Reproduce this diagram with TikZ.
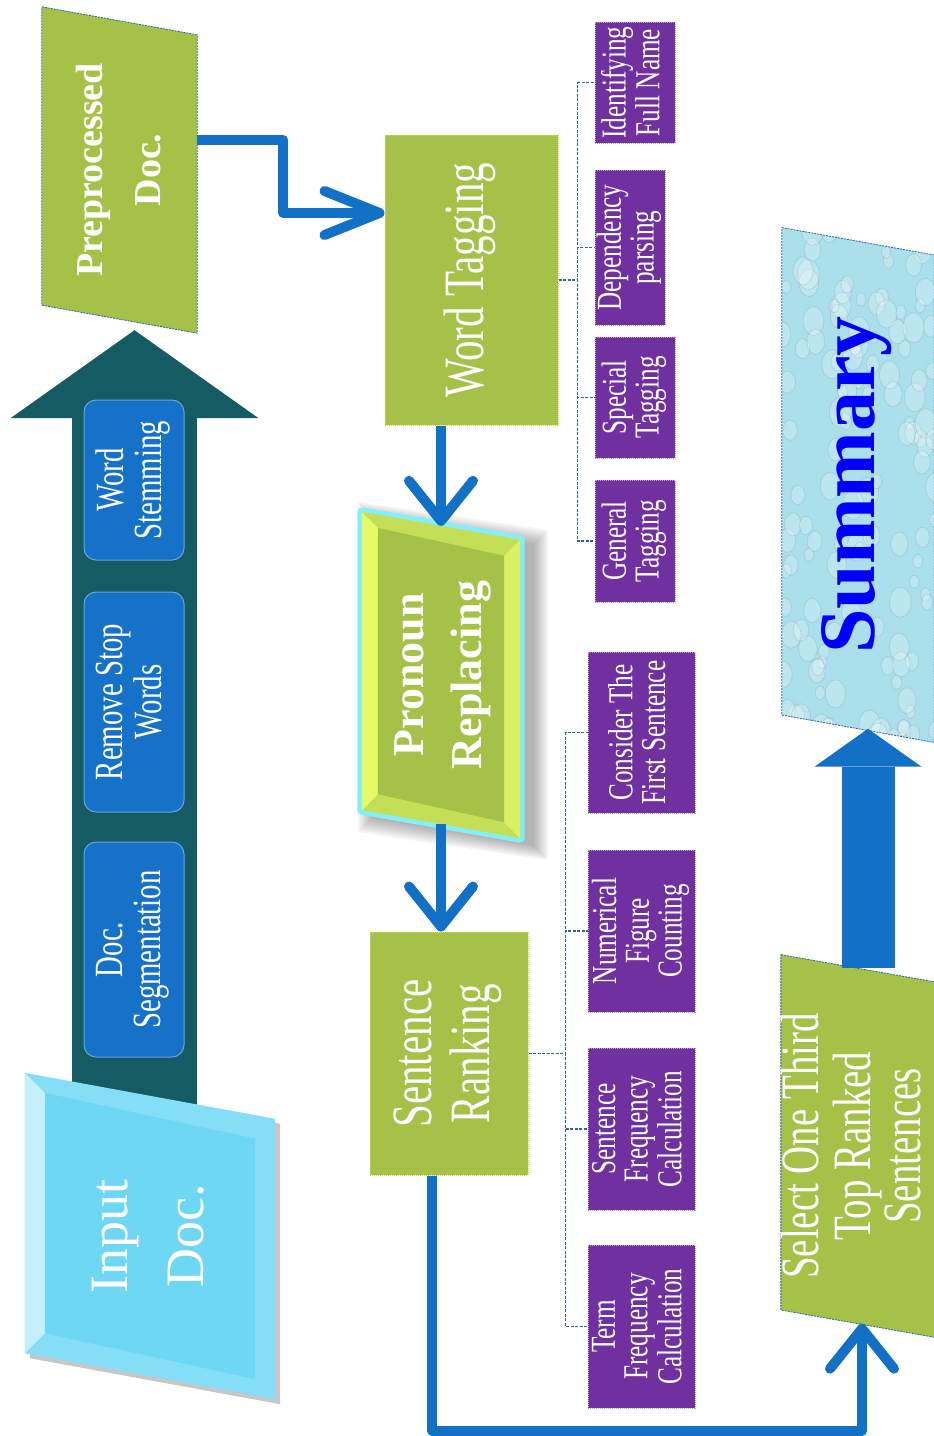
\documentclass[tikz,border=0pt]{standalone}
\usepackage{fontspec}
\usepackage{graphicx}
\setmainfont{Liberation Serif}
\newfontfamily\condfont[FakeStretch=0.72]{Liberation Serif}
\usetikzlibrary{arrows.meta,calc,backgrounds}

\definecolor{docgreen}{RGB}{166,193,72}
\definecolor{leafpurple}{RGB}{112,48,160}
\definecolor{flowblue}{RGB}{18,112,198}
\definecolor{stepblue}{RGB}{22,114,200}
\definecolor{trunkteal}{RGB}{21,91,99}
\definecolor{inputcyan}{RGB}{110,216,244}
\definecolor{twigblue}{RGB}{40,100,165}
\definecolor{waterbg}{RGB}{170,223,235}
\definecolor{glowcyan}{RGB}{130,240,250}
\definecolor{pronyellow}{RGB}{228,250,105}

\newcommand{\vtext}[1]{\rotatebox{90}{\begin{tabular}{@{}c@{}}#1\end{tabular}}}
% slanted document shape round a node: options, node, skew, inset
\newcommand{\slantshape}[4]{%
  \path[#1] ($(#2.north west)+({#4},{-#3+(#4)})$)
    -- ($(#2.north east)+({-1*(#4)},{#3+(#4)})$)
    -- ($(#2.south east)+({-1*(#4)},{#3-(#4)})$)
    -- ($(#2.south west)+({#4},{-#3-(#4)})$) -- cycle;}

\tikzset{
  block/.style={inner sep=0pt, text=white},
  slantbox/.style={block},
  greenbox/.style={block, fill=docgreen, draw=yellow!55!docgreen, densely dotted,
    line width=1pt, font=\condfont\fontsize{57}{58}\selectfont},
  stepbox/.style={block, fill=stepblue, draw=stepblue!65!white, line width=1pt,
    rounded corners=12pt, minimum width=100pt, font=\condfont\fontsize{40}{37}\selectfont},
  leaf/.style={block, fill=leafpurple, draw=leafpurple!45!white, densely dotted,
    line width=1pt, font=\condfont\fontsize{35}{32}\selectfont},
  twig/.style={draw=twigblue, line width=1.3pt, dash pattern=on 3pt off 1.5pt},
  flow/.style={draw=flowblue, line width=10pt, line join=round,
    -{Straight Barb[length=40pt 0 0, width=64pt 0 0, round]}}
}

\begin{document}
\begin{tikzpicture}[x=1pt, y=-1pt]
  \useasboundingbox (0,0) rectangle (934,1436);

  % documents
  \node[slantbox, minimum width=155pt, minimum height=298pt,
        font=\bfseries\fontsize{38}{58}\selectfont] (pre) at (119.5,170) {\vtext{Preprocessed\\Doc.}};
  \node[slantbox, minimum width=250pt, minimum height=280pt,
        font=\fontsize{54}{76}\selectfont] (inp) at (150,1236) {\vtext{Input\\Doc.}};
  \node[slantbox, minimum width=158pt, minimum height=298pt,
        font=\bfseries\fontsize{44}{58}\selectfont] (pr) at (441,675) {\vtext{Pronoun\\Replacing}};
  \node[greenbox, minimum width=173pt, minimum height=290pt] (wt) at (471.5,280) {\vtext{Word Tagging}};
  \node[greenbox, minimum width=158pt, minimum height=243pt] (sr) at (449,1053.5) {\vtext{Sentence\\Ranking}};
  \node[slantbox, minimum width=152pt, minimum height=355pt,
        font=\condfont\fontsize{54}{48}\selectfont] (sel) at (858,1146) {\vtext{Select One Third\\Top Ranked\\Sentences}};
  \node[slantbox, minimum width=152pt, minimum height=487pt, text=blue,
        font=\bfseries\fontsize{80}{80}\selectfont] (summ) at (858,485) {\vtext{Summary}};

  % preprocessing steps
  \node[stepbox, minimum height=160pt] (stem) at (134,480) {\vtext{Word\\Stemming}};
  \node[stepbox, minimum height=220pt] (stop) at (134,702) {\vtext{Remove Stop\\Words}};
  \node[stepbox, minimum height=215pt] (seg) at (134,949.5) {\vtext{Doc.\\Segmentation}};

  % tagging kinds
  \node[leaf, minimum width=80pt, minimum height=121pt] (idf) at (635,82.5) {\vtext{Identifying\\Full Name}};
  \node[leaf, minimum width=70pt, minimum height=155pt] (dep) at (630,247.5) {\vtext{Dependency\\parsing}};
  \node[leaf, minimum width=80pt, minimum height=121pt] (spc) at (635,397.5) {\vtext{Special\\Tagging}};
  \node[leaf, minimum width=80pt, minimum height=122pt] (gen) at (635,541) {\vtext{General\\Tagging}};

  % ranking features
  \node[leaf, minimum width=107pt, minimum height=161pt] (cfs) at (641.5,732.5) {\vtext{Consider The\\First Sentence}};
  \node[leaf, minimum width=107pt, minimum height=162pt] (nfc) at (641.5,931) {\vtext{Numerical\\Figure\\Counting}};
  \node[leaf, minimum width=107pt, minimum height=162pt] (sfc) at (641.5,1129) {\vtext{Sentence\\Frequency\\Calculation}};
  \node[leaf, minimum width=107pt, minimum height=163pt] (tfc) at (641.5,1326.5) {\vtext{Term\\Frequency\\Calculation}};

  \coordinate (tipA) at ($(pre.south)+(15,11)$);

  \begin{scope}[on background layer]
    \draw[trunkteal, line width=125pt,
          -{Triangle[length=88pt 0 0, width=248pt 0 0, line width=0pt]}]
      (tipA |- inp.center) -- (tipA);
    % input document with bevel
    \slantshape{fill=black!22, transform canvas={shift={(5pt,-5pt)}}}{inp}{23}{0}
    \slantshape{fill=inputcyan!85!white}{inp}{23}{0}
    \fill[inputcyan!40!white] ($(inp.north west)+(0,-23)$) -- ($(inp.north west)+(20,-3)$)
      -- ($(inp.south west)+(20,-43)$) -- ($(inp.south west)+(0,-23)$) -- cycle;
    \slantshape{fill=inputcyan}{inp}{23}{20}
    \slantshape{fill=docgreen, draw=twigblue, line width=0.8pt, dash pattern=on 2pt off 1pt}{pre}{14}{0}
    % pronoun box with shadow, glow and bevel
    \foreach \s in {1,...,8}
      {\slantshape{fill=black, opacity=0.045, transform canvas={shift={(12pt,-6pt)}}}{pr}{14}{-2*\s}}
    \slantshape{draw=glowcyan, line width=9pt, line join=round}{pr}{14}{0}
    \slantshape{fill=pronyellow!50!docgreen}{pr}{14}{0}
    \fill[pronyellow] ($(pr.north west)+(0,-14)$) -- ($(pr.north west)+(16,2)$)
      -- ($(pr.south west)+(16,-30)$) -- ($(pr.south west)+(0,-14)$) -- cycle;
    \fill[pronyellow!85!docgreen] ($(pr.north east)+(0,14)$) -- ($(pr.north east)+(-16,30)$)
      -- ($(pr.south east)+(-16,-2)$) -- ($(pr.south east)+(0,14)$) -- cycle;
    \slantshape{fill=docgreen}{pr}{14}{16}
    \slantshape{fill=docgreen, draw=twigblue, line width=0.8pt, dash pattern=on 2pt off 1pt}{sel}{13.7}{0}
    % summary with water drops
    \begin{scope}
      \slantshape{clip}{summ}{13.7}{0}
      \fill[waterbg] ($(summ.north west)+(0,-30)$) rectangle ($(summ.south east)+(0,30)$);
      \pgfmathsetseed{12}
      \foreach \i in {1,...,130} {
        \pgfmathsetmacro{\dx}{780+158*rnd}
        \pgfmathsetmacro{\dy}{222+525*rnd}
        \pgfmathsetmacro{\dr}{4+7*rnd}
        \fill[white, opacity=0.22] (\dx,\dy) ellipse [x radius=\dr, y radius=1.4*\dr];
        \draw[waterbg!60!black, opacity=0.2, line width=0.8pt] (\dx,\dy) ellipse [x radius=\dr, y radius=1.4*\dr];
      }
    \end{scope}
    \slantshape{draw=twigblue, line width=0.8pt, dash pattern=on 2pt off 1pt}{summ}{13.7}{0}
  \end{scope}

  % connectors
  \foreach \c in {idf,dep,spc,gen}
    \draw[twig] (wt.east) -- ++(19,0) |- (\c.west);
  \foreach \c in {cfs,nfc,sfc,tfc}
    \draw[twig] (sr.east) -- ++(37,0) |- (\c.west);

  \draw[flow, -{Straight Barb[length=55pt 0 0, width=44pt 0 0, round]}]
    ($(pre.east)+(0,-30)$) -- ++(86,0) |- ($(wt.west)+(0,-67)$);
  \draw[flow] (wt.south -| pr.north) -- (pr.north);
  \draw[flow] (pr.south) -- (pr.south |- sr.north);
  \draw[flow] ($(sr.south)+(-17,0)$) -- ++(0,255) -| ($(sel.south)+(4,0)$);
  \draw[flowblue, line width=53pt,
        -{Triangle[length=38pt 0 0, width=107pt 0 0, line width=0pt]}]
    ($(sel.north)+(10,0)$) -- ($(summ.south)+(10,0)$);
\end{tikzpicture}
\end{document}
